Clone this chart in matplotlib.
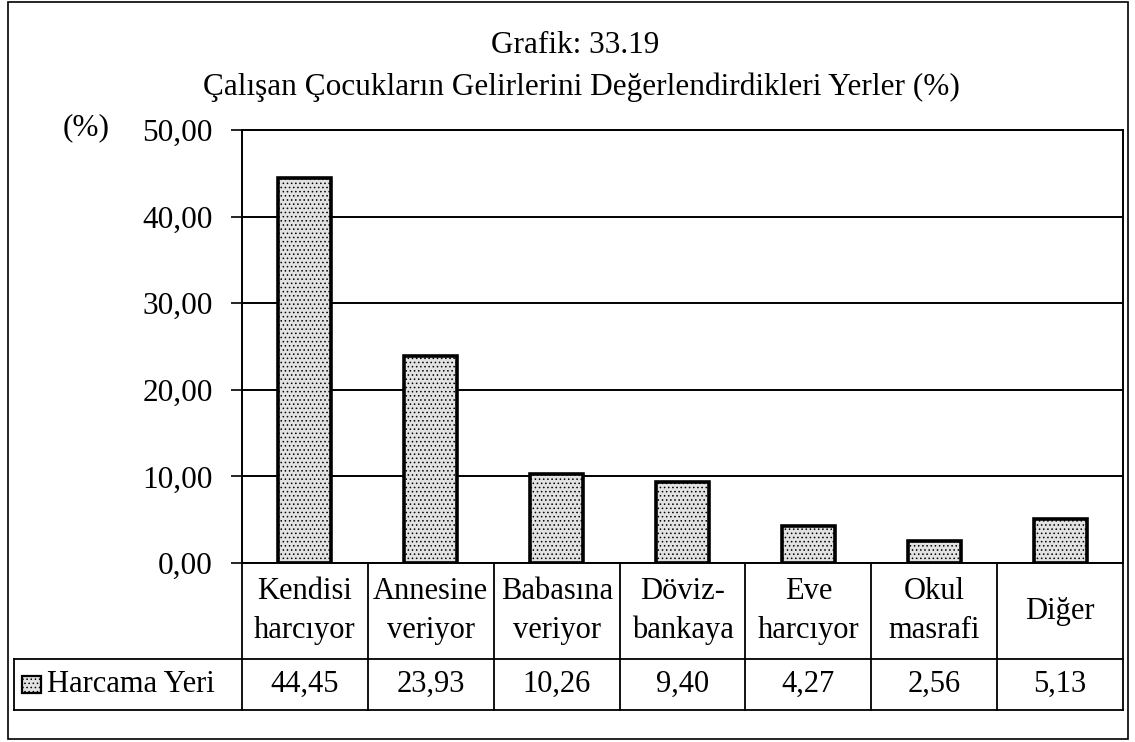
import matplotlib
matplotlib.use("Agg")
import matplotlib.pyplot as plt
from matplotlib.patches import Rectangle
from matplotlib.transforms import blended_transform_factory

plt.rcParams['font.family'] = ['Liberation Serif', 'DejaVu Serif']
plt.rcParams['hatch.color'] = '#8a8a8a'
plt.rcParams['hatch.linewidth'] = 0.6

title_line1 = "Grafik: 33.19"
title_line2 = "Çalışan Çocukların Gelirlerini Değerlendirdikleri Yerler (%)"
categories = ["Kendisi\nharcıyor", "Annesine\nveriyor", "Babasına\nveriyor",
              "Döviz-\nbankaya", "Eve\nharcıyor", "Okul\nmasrafi", "Diğer"]
values = [44.45, 23.93, 10.26, 9.40, 4.27, 2.56, 5.13]
series_name = "Harcama Yeri"
y_ticks = [0, 10, 20, 30, 40, 50]

W, H = 1135, 742
fig = plt.figure(figsize=(W / 100, H / 100), dpi=100)

# outer frame
fig.patches.append(Rectangle((8 / W, 1 - 739 / H), (1128 - 8) / W, (739 - 2) / H,
                             transform=fig.transFigure, fill=False,
                             edgecolor='black', linewidth=1.2))

ax_l, ax_r, ax_t, ax_b = 242, 1123, 130, 563
ax = fig.add_axes([ax_l / W, 1 - ax_b / H, (ax_r - ax_l) / W, (ax_b - ax_t) / H])

fs = 22.5
fs_tab = 22
bar_fill = '#e2e2e2'
x = list(range(len(values)))
ax.bar(x, values, width=0.42, color=bar_fill, edgecolor='black',
       linewidth=2.6, hatch='....', zorder=3)

ax.set_xlim(-0.5, len(values) - 0.5)
ax.set_ylim(0, 50)
ax.set_yticks(y_ticks)
ax.set_yticklabels([f"{t:.2f}".replace('.', ',') for t in y_ticks], fontsize=fs)
ax.tick_params(axis='y', direction='out', length=8, width=1.2, pad=13)
ax.set_xticks([])
ax.yaxis.grid(True, color='black', linewidth=1.4, zorder=1)
for s in ax.spines.values():
    s.set_linewidth(1.4)

fig.text(575 / W, 1 - 53 / H, title_line1, ha='center', va='baseline', fontsize=fs)
fig.text(581 / W, 1 - 95 / H, title_line2, ha='center', va='baseline', fontsize=fs)
fig.text(86 / W, 1 - 128 / H, "(%)", ha='center', va='center', fontsize=fs)

# data table under the axes
axh = ax_b - ax_t
row1 = -(659 - ax_b) / axh
row2 = -(710 - ax_b) / axh
trans = blended_transform_factory(ax.transData, ax.transAxes)
lw = 1.3
n = len(values)
left_x = -0.5 - (ax_l - 14) / ((ax_r - ax_l) / n)

for i in range(n + 1):
    ax.plot([i - 0.5, i - 0.5], [0, row2], transform=trans, color='black',
            linewidth=lw, clip_on=False)
ax.plot([left_x, n - 0.5], [row1, row1], transform=trans, color='black',
        linewidth=lw, clip_on=False)
ax.plot([left_x, n - 0.5], [row2, row2], transform=trans, color='black',
        linewidth=lw, clip_on=False)
ax.plot([left_x, left_x], [row1, row2], transform=trans, color='black',
        linewidth=lw, clip_on=False)

for i, (c, v) in enumerate(zip(categories, values)):
    ax.text(i, row1 / 2, c, transform=trans, ha='center', va='center',
            fontsize=fs_tab, linespacing=1.45)
    ax.text(i, (row1 + row2) / 2, f"{v:.2f}".replace('.', ','), transform=trans,
            ha='center', va='center', fontsize=fs_tab)

# legend key and series name in the first table column
key_h = 17 / axh
key_w = 19 / ((ax_r - ax_l) / n)
kx = left_x + 8 / ((ax_r - ax_l) / n)
ky = (row1 + row2) / 2 - key_h / 2
ax.add_patch(Rectangle((kx, ky), key_w, key_h, transform=trans, facecolor=bar_fill,
                       edgecolor='black', linewidth=1.6, hatch='....', clip_on=False))
ax.text(kx + key_w + 6 / ((ax_r - ax_l) / n), (row1 + row2) / 2, series_name,
        transform=trans, ha='left', va='center', fontsize=fs_tab)

fig.savefig("out.png", dpi=100)
